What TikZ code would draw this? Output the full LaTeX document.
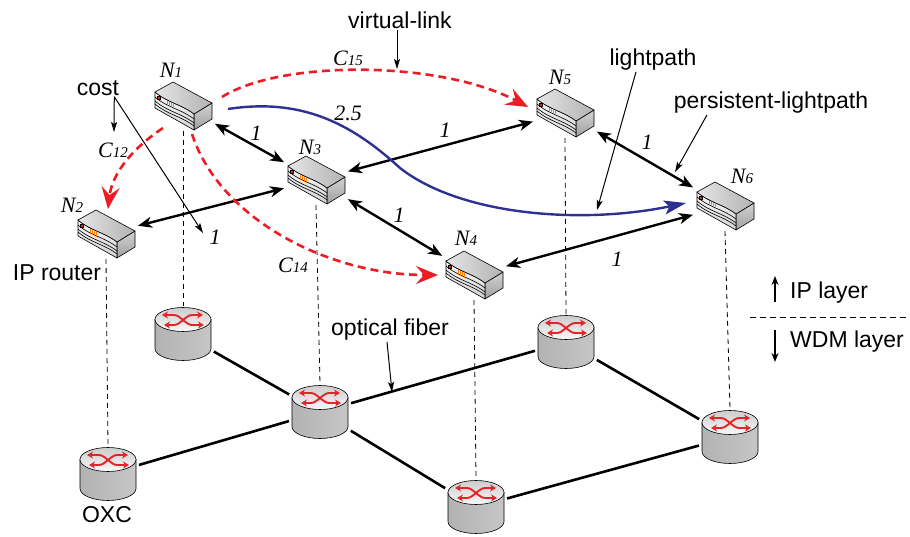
\documentclass[tikz,border=0pt]{standalone}
\usepackage{fontspec}
\setmainfont{Liberation Sans}
\newfontfamily\serifit{Liberation Serif}
\usetikzlibrary{arrows.meta,positioning,calc}
\definecolor{vlred}{RGB}{237,28,36}
\definecolor{lpblue}{RGB}{46,49,146}
\definecolor{ledred}{RGB}{228,36,40}
\tikzstyle{link} = [line width=2.4pt,{Stealth[length=14pt,width=11pt,inset=4pt]}-{Stealth[length=14pt,width=11pt,inset=4pt]},shorten <=1pt,shorten >=1pt]
\tikzstyle{vlink} = [vlred,line width=2.6pt,dash pattern=on 8pt off 5pt,-{Stealth[length=22pt,width=18pt,inset=8pt]}]
\tikzstyle{lpath} = [lpblue,line width=2.4pt,-{Stealth[length=22pt,width=14pt,inset=5pt]}]
\tikzstyle{fiber} = [line width=2.6pt,shorten <=1pt,shorten >=1pt]
\tikzstyle{tap} = [line width=0.8pt,dash pattern=on 5pt off 4pt]
\tikzstyle{callout} = [line width=1pt,-{Stealth[length=10pt,width=6pt,inset=2pt]}]
\tikzstyle{xarrow} = [ledred,line width=1.9pt,{Stealth[length=6pt,width=7pt]}-{Stealth[length=6pt,width=7pt]}]
\tikzstyle{lbl} = [font=\fontsize{23}{27}\selectfont,inner sep=1pt]
\tikzstyle{num} = [font=\serifit\itshape\fontsize{22}{25}\selectfont,inner sep=1pt]
\newcommand{\sublab}[2]{#1{\fontsize{15}{15}\selectfont #2}}
% IP router icon
\newcommand{\routerbox}{%
  \begin{scope}[shift={(path picture bounding box.center)},line width=0.6pt,line join=round]
    \draw[top color=gray!35,bottom color=gray!75] (11,8) -- (29,-3) -- (29,13) -- (11,24) -- cycle;
    \draw[top color=gray!5,bottom color=gray!35] (-28,-14) .. controls (-15,-3) and (-2,-2) .. (11,8) -- (11,24) -- (-28,2) -- cycle;
    \foreach \k in {5,9,12}
      \draw (-28,-14+\k) .. controls (-15,-3+\k) and (-2,-2+\k) .. (11,8+\k);
    \draw[left color=gray!20,right color=gray!60] (-28,-14) -- (-10,-24) -- (29,-3) -- (11,8) .. controls (-2,-2) and (-15,-3) .. (-28,-14) -- cycle;
    \draw[fill=ledred,line width=0.3pt] (-26,-10) rectangle (-23,-7);
    \foreach \d in {0,2,4,6}
      \draw[orange,line width=0.5pt] (-16+\d,-5+0.55*\d) -- ++(0,5);
  \end{scope}}
% OXC icon
\newcommand{\oxcdrum}{%
  \begin{scope}[shift={(path picture bounding box.center)},line width=0.6pt]
    \draw[left color=gray!60,middle color=gray!5,right color=gray!45] (-28,-14.5) -- (-28,14.5) arc[start angle=180,end angle=0,x radius=28,y radius=12] -- (28,-14.5) -- cycle;
    \draw[top color=gray!40,bottom color=gray!5] (0,-14.5) ellipse [x radius=28,y radius=12];
    \draw[xarrow] (-21,-19) -- (-9,-19) .. controls (-3,-19) and (3,-9) .. (9,-9) -- (21,-9);
    \draw[xarrow] (-19,-9) -- (-9,-9) .. controls (-3,-9) and (3,-19) .. (9,-19) -- (20,-19);
  \end{scope}}
\tikzstyle{iprouter} = [minimum width=62pt,minimum height=50pt,inner sep=0pt,outer sep=0pt,path picture={\routerbox}]
\tikzstyle{oxc} = [minimum width=60pt,minimum height=56pt,inner sep=0pt,outer sep=0pt,path picture={\oxcdrum}]

\begin{document}
\begin{tikzpicture}[x=1pt,y=-1pt]
  \useasboundingbox (0,0) rectangle (910,537);
  % IP layer and WDM layer
  \foreach \nm/\x/\y in {n1/183/106,n2/106/234,n3/316/180,n4/474/275,n5/565/113,n6/725/206}
    \node[iprouter] (\nm) at (\x,\y) {};
  \foreach \nm/\x/\y in {o1/183/334,o2/108/474,o3/320/412,o4/476/507,o5/566/342,o6/730/437}
    \node[oxc] (\nm) at (\x,\y) {};
  \foreach \i in {1,...,6}
    \draw[tap] (n\i.south) -- (o\i.north);
  \draw[fiber] (o1) -- (o3);
  \draw[fiber] (o2) -- (o3);
  \draw[fiber] (o3) -- (o5);
  \draw[fiber] (o3) -- (o4);
  \draw[fiber] (o5) -- (o6);
  \draw[fiber] (o4) -- (o6);
  % persistent lightpaths
  \draw[link] (n1) -- (n3);
  \draw[link] (n3) -- (n2);
  \draw[link] (n3) -- (n5);
  \draw[link] (n3) -- (n4);
  \draw[link] (n5) -- (n6);
  \draw[link] (n4) -- (n6);
  % lightpath and virtual links
  \draw[lpath] ([shift={(14,3)}]n1.east) .. controls (300,98) and (350,122) .. (400,168) .. controls (460,215) and (580,225) .. ([shift={(-8,-3)}]n6.west);
  \draw[vlink] ([shift={(8,-9)}]n1.east) .. controls (280,60) and (440,60) .. ([shift={(-6,-6)}]n5.west);
  \draw[vlink] ([shift={(-20,-3)}]n1.south) .. controls (130,150) and (112,175) .. ([xshift=2pt]n2.north);
  \draw[vlink] ([shift={(9,3)}]n1.south) .. controls (220,220) and (330,275) .. ([xshift=-5pt]n4.west);
  % labels
  \foreach \nm/\i/\x/\y in {l1/1/171/70,l2/2/72/205,l3/3/310/147,l4/4/466/238,l5/5/560/77,l6/6/742/176}
    \node[num] (\nm) at (\x,\y) {\sublab{N}{\i}};
  \foreach \nm/\x/\y in {w13/256/133,w23/215/237,w35/445/130,w34/399/215,w56/647/142,w46/617/259}
    \node[num] (\nm) at (\x,\y) {1};
  \node[num] (w16) at (348,113) {2.5};
  \node[num] (c15) at (348,58) {\sublab{C}{15}};
  \node[num] (c12) at (113,150) {\sublab{C}{12}};
  \node[num] (c14) at (293,265) {\sublab{C}{14}};
  \node[lbl] (vltxt) at (400,20) {virtual-link};
  \node[lbl] (costtxt) at (98,88) {cost};
  \node[lbl] (lptxt) at (653,60) {lightpath};
  \node[lbl] (plptxt) at (771,103) {persistent-lightpath};
  \node[lbl] (iptxt) at (57,273) {IP router};
  \node[lbl] (oftxt) at (390,330) {optical fiber};
  \node[lbl] (oxctxt) at (107,515) {OXC};
  \node[lbl,anchor=west] (iplayer) at (789,293) {IP layer};
  \node[lbl,anchor=west] (wdmlayer) at (789,342) {WDM layer};
  % callouts
  \coordinate (vltip) at (397,69);
  \coordinate (costtipA) at (114,132);
  \coordinate (costtipB) at (203,233);
  \coordinate (lptip) at (597,210);
  \coordinate (plptip) at (675,172);
  \coordinate (oftip) at (392,392);
  \draw[callout] (vltxt.south -| vltip) -- (vltip);
  \draw[callout] ([xshift=-6pt]costtxt.south east) -- (costtipA);
  \draw[callout] ([xshift=-6pt]costtxt.south east) -- (costtipB);
  \draw[callout] ([xshift=-17pt]lptxt.south) -- (lptip);
  \draw[callout] ([xshift=-64pt]plptxt.south) -- (plptip);
  \draw[callout] ([xshift=-3pt]oftxt.south) -- (oftip);
  % layer separator
  \coordinate (upbase) at (775,302);
  \coordinate (uptip) at (775,276);
  \coordinate (downbase) at (775,330);
  \coordinate (downtip) at (775,362);
  \draw[line width=1.8pt,-{Stealth[length=9pt,width=7pt]}] (upbase) -- (uptip);
  \draw[line width=1.8pt,-{Stealth[length=9pt,width=7pt]}] (downbase) -- (downtip);
  \draw[line width=0.8pt,dash pattern=on 6pt off 4pt] (750,317) -- (910,317);
\end{tikzpicture}
\end{document}
